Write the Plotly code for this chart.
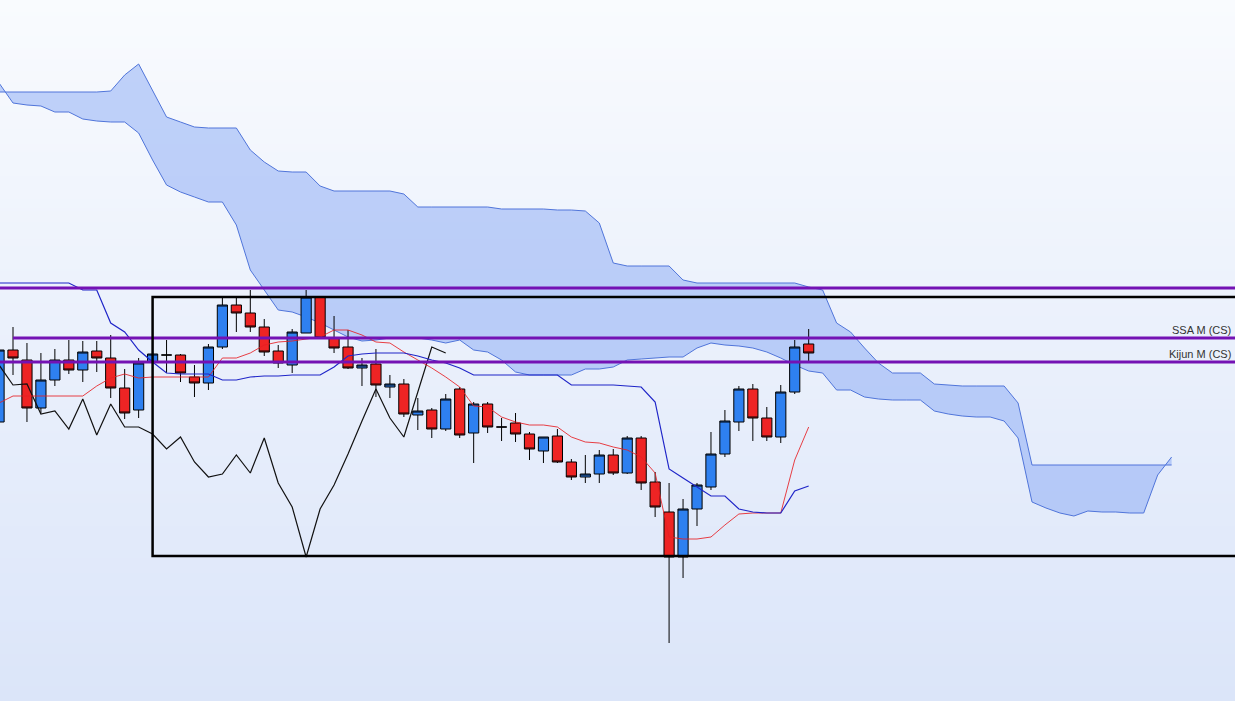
import plotly.graph_objects as go

# ----------------------------
# Bar data (price levels in chart units, 59 daily bars)
# ----------------------------
bars = list(range(59))
cloud_bars = list(range(85))  # cloud is projected 26 bars ahead

open_ = [278, 350, 340, 292, 320, 340, 330, 349, 342, 312,
         290, 338, 345, 345, 323, 317, 353, 395, 387, 373,
         349, 335, 367, 403, 362, 353, 332, 336, 313, 316,
         285, 290, 271, 311, 267, 296, 273, 277, 266, 249,
         264, 238, 223, 226, 245, 227, 262, 218, 188, 143,
         191, 213, 246, 278, 311, 282, 263, 308, 356]
high = [355, 373, 357, 347, 351, 360, 359, 359, 365, 331,
        342, 347, 360, 346, 335, 356, 403, 402, 410, 381,
        355, 371, 410, 404, 384, 370, 342, 351, 325, 321,
        302, 292, 306, 313, 298, 298, 282, 287, 268, 263,
        271, 241, 245, 250, 251, 264, 264, 228, 217, 201,
        217, 268, 290, 314, 316, 293, 315, 360, 371]
low = [275, 325, 278, 287, 314, 326, 318, 328, 302, 281,
       282, 337, 327, 318, 303, 310, 351, 368, 368, 344,
       332, 327, 367, 361, 347, 331, 314, 303, 302, 283,
       270, 262, 269, 262, 237, 267, 259, 258, 240, 237,
       237, 220, 217, 217, 225, 226, 210, 183, 57, 122,
       174, 210, 243, 269, 259, 259, 257, 306, 339]
close = [350, 342, 292, 320, 340, 330, 348, 342, 312, 287,
         337, 346, 345, 327, 317, 353, 395, 387, 373, 348,
         337, 368, 403, 362, 352, 332, 335, 315, 316, 286,
         289, 271, 301, 265, 296, 273, 273, 266, 251, 263,
         238, 223, 226, 245, 227, 262, 217, 193, 143, 191,
         215, 246, 279, 311, 282, 263, 308, 353, 347]

# Ichimoku lines
tenkan = [297, 304, 304, 304, 304, 304, 304, 314, 322, 326,
          322, 323, 323, 323, 323, 323, 342, 342, 347, 355,
          358, 359, 361, 363, 370, 370, 365, 358, 357, 348,
          340, 332, 323, 313, 294, 293, 283, 278, 275, 275,
          273, 263, 258, 257, 253, 250, 243, 227, 163, 161,
          161, 163, 175, 186, 187, 187, 187, 240, 273]
kijun = [417, 417, 417, 417, 417, 417, 410, 410, 377, 368,
         350, 338, 327, 326, 326, 326, 320, 320, 323, 324,
         324, 325, 325, 325, 333, 344, 346, 347, 347, 347,
         344, 340, 337, 332, 325, 325, 325, 325, 325, 325,
         325, 315, 315, 315, 315, 314, 313, 298, 231, 222,
         213, 204, 204, 191, 188, 187, 187, 209, 214]
senkou_a = [617, 597, 595, 594, 588, 588, 581, 579, 578, 578,
            567, 540, 515, 508, 503, 498, 498, 475, 430, 410,
            390, 388, 383, 377, 370, 363, 359, 360, 362, 362,
            362, 360, 357, 360, 350, 348, 340, 328, 325, 325,
            325, 325, 331, 331, 333, 340, 341, 342, 343, 343,
            352, 357, 355, 354, 352, 348, 342, 335, 329, 327,
            310, 310, 303, 301, 300, 300, 300, 289, 286, 284,
            283, 283, 279, 262, 198, 192, 187, 184, 189, 188,
            188, 187, 187, 225, 243]
senkou_b = [608, 608, 608, 608, 608, 608, 608, 608, 609, 625,
            636, 610, 583, 578, 573, 572, 572, 572, 550, 538,
            529, 528, 528, 514, 509, 509, 509, 509, 509, 506,
            493, 493, 493, 493, 493, 493, 491, 491, 491, 491,
            490, 490, 489, 477, 437, 434, 434, 434, 434, 420,
            417, 417, 417, 417, 417, 417, 417, 417, 413, 410,
            377, 368, 352, 337, 327, 327, 327, 316, 315, 314,
            314, 314, 314, 297, 235, 235, 235, 235, 235, 235,
            235, 235, 235, 235, 235]

# Chikou span = close shifted back 26 bars
chikou = close[26:]
chikou_bars = bars[:len(chikou)]

# Horizontal levels (monthly SSA / Kijun and top level)
level_values = [412, 362, 338]
level_labels = ["", "SSA M (CS)", "Kijun M (CS)"]
level_start = [0, 1, 0]

# Range box
box_top = 403
box_bottom = 144
box_start = 11

X_RANGE = [0.069, 88.54]
Y_RANGE = [-1, 700]
PURPLE = "#7412B4"

fig = go.Figure()

# background gradient
fig.add_trace(go.Heatmap(
    x=X_RANGE, y=Y_RANGE, z=[[0, 0], [1, 1]],
    colorscale=[[0, "#DBE5F9"], [1, "#F9FBFE"]],
    zsmooth="best", showscale=False, hoverinfo="skip"
))

# cloud (bottom subplot layer)
fig.add_trace(go.Scatter(
    x=cloud_bars, y=senkou_b, mode="lines",
    line=dict(color="#5075DA", width=1), hoverinfo="skip"
))
fig.add_trace(go.Scatter(
    x=cloud_bars, y=senkou_a, mode="lines",
    line=dict(color="#5075DA", width=1),
    fill="tonexty", fillcolor="rgba(125,160,245,0.45)", hoverinfo="skip"
))

# candles on an overlaid axis so they sit above the cloud
fig.add_trace(go.Candlestick(
    x=bars, open=open_, high=high, low=low, close=close,
    increasing=dict(fillcolor="#2E80F0", line=dict(color="black", width=1)),
    decreasing=dict(fillcolor="#EE2424", line=dict(color="black", width=1)),
    whiskerwidth=0, hoverinfo="skip", yaxis="y2"
))

# chikou, tenkan, kijun on top of candles
fig.add_trace(go.Scatter(x=chikou_bars, y=chikou, mode="lines", yaxis="y3",
                         line=dict(color="#111111", width=1.2), hoverinfo="skip"))
fig.add_trace(go.Scatter(x=bars, y=tenkan, mode="lines", yaxis="y3",
                         line=dict(color="rgba(230,30,35,0.85)", width=1), hoverinfo="skip"))
fig.add_trace(go.Scatter(x=bars, y=kijun, mode="lines", yaxis="y3",
                         line=dict(color="#1F25C8", width=1.2), hoverinfo="skip"))

# levels
for val, label, start in zip(level_values, level_labels, level_start):
    fig.add_shape(type="line", xref="x", yref="y", x0=start, x1=X_RANGE[1] + 1,
                  y0=val, y1=val, line=dict(color=PURPLE, width=3))
    if label:
        fig.add_annotation(x=0.998, xref="paper", y=val + 8, yref="y",
                           text=label, showarrow=False, xanchor="right",
                           yanchor="middle",
                           font=dict(family="Liberation Sans, Arial", size=11, color="#333333"))

# range box
fig.add_shape(type="rect", xref="x", yref="y", x0=box_start, x1=X_RANGE[1] + 2,
              y0=box_bottom, y1=box_top, line=dict(color="black", width=2.5),
              fillcolor="rgba(0,0,0,0)")

fig.update_layout(
    width=1235, height=701,
    margin=dict(l=0, r=0, t=0, b=0),
    showlegend=False,
    boxgap=0.27, boxgroupgap=0,
    paper_bgcolor="#F0F4FD",
    plot_bgcolor="#F0F4FD",
    xaxis=dict(range=X_RANGE, visible=False, rangeslider=dict(visible=False)),
    yaxis=dict(range=Y_RANGE, visible=False),
    yaxis2=dict(range=Y_RANGE, visible=False, overlaying="y"),
    yaxis3=dict(range=Y_RANGE, visible=False, overlaying="y"),
)

fig.write_html("out.html", config={"displayModeBar": False},
               post_script="document.body.style.margin='0px';")
